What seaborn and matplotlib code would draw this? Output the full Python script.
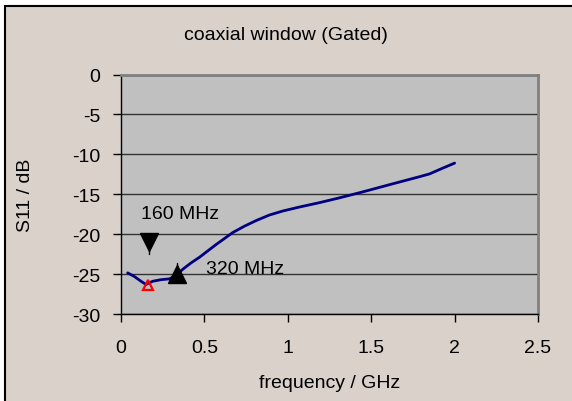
import matplotlib
matplotlib.use("Agg")
import matplotlib.pyplot as plt
import seaborn as sns
import pandas as pd
from matplotlib.patches import Rectangle

freq_ghz = [0.04, 0.08, 0.12, 0.15, 0.19, 0.24, 0.29, 0.33, 0.37, 0.42, 0.47,
            0.57, 0.67, 0.74, 0.81, 0.89, 0.97, 1.07, 1.18, 1.30, 1.45, 1.61, 1.79, 1.85, 1.91, 2.00]
s11_db = [-24.85, -25.3, -25.9, -26.3, -25.9, -25.7, -25.6, -25.2, -24.4, -23.6, -22.9,
          -21.3, -19.8, -19.0, -18.3, -17.6, -17.1, -16.6, -16.1, -15.5, -14.7, -13.8, -12.8, -12.45, -11.9, -11.1]

marker_160_x, marker_160_y = [0.17], [-21.0]
marker_320_x, marker_320_y = [0.335], [-25.0]
min_x, min_y = [0.16], [-26.4]

x_ticks = [0, 0.5, 1, 1.5, 2, 2.5]
x_tick_labels = ["0", "0.5", "1", "1.5", "2", "2.5"]
y_ticks = [0, -5, -10, -15, -20, -25, -30]
y_tick_labels = ["0", "-5", "-10", "-15", "-20", "-25", "-30"]

title = "coaxial window (Gated)"
xlabel = "frequency / GHz"
ylabel = "S11 / dB"

sns.set_theme(style="white")
plt.rcParams["font.family"] = ["Liberation Sans", "DejaVu Sans"]

fig = plt.figure(figsize=(5.72, 4.02), dpi=100, facecolor="white")
bg = Rectangle((5 / 572, -0.1), 2, 1 - 7 / 402 + 0.1, transform=fig.transFigure,
               facecolor="#d9d1ca", edgecolor="black", linewidth=1.5, zorder=-10)
fig.patches.append(bg)

ax = fig.add_axes([121 / 572, 1 - 315 / 402, (538 - 121) / 572, (315 - 75.5) / 402])
ax.set_facecolor("#c0c0c0")

df = pd.DataFrame({"f": freq_ghz, "s": s11_db})
sns.lineplot(data=df, x="f", y="s", ax=ax, color="#000080", linewidth=2.0,
             sort=False, estimator=None, zorder=3)

# markers with short vertical bars
ax.plot([marker_160_x[0], marker_160_x[0]], [marker_160_y[0], marker_160_y[0] - 1.5],
        color="black", lw=1, zorder=4)
ax.plot(marker_160_x, marker_160_y, marker="v", color="black", ms=13, ls="none", zorder=5)
ax.plot([marker_320_x[0], marker_320_x[0]], [marker_320_y[0], marker_320_y[0] + 1.4],
        color="black", lw=1, zorder=4)
ax.plot(marker_320_x, marker_320_y, marker="^", color="black", ms=13, ls="none", zorder=5)
ax.plot(min_x, min_y, marker="^", mfc="none", mec="red", mew=1.6, ms=6.5, ls="none", zorder=6)

ax.text(0.12, -17.4, "160 MHz", fontsize=14, ha="left", va="center", color="black", zorder=6)
ax.text(0.51, -24.3, "320 MHz", fontsize=14, ha="left", va="center", color="black", zorder=6)

ax.set_xlim(0, 2.5)
ax.set_ylim(-30, 0)
ax.set_xticks(x_ticks)
ax.set_xticklabels(x_tick_labels)
ax.set_yticks(y_ticks)
ax.set_yticklabels(y_tick_labels)
ax.tick_params(axis="both", labelsize=14, colors="black", direction="out", length=6, width=1,
               left=True, bottom=True)
ax.tick_params(axis="y", pad=9)
ax.tick_params(axis="x", pad=12)
ax.yaxis.grid(True, color="#333333", linewidth=1)
ax.xaxis.grid(False)
ax.set_axisbelow(True)

for side in ["left", "bottom"]:
    ax.spines[side].set_color("black")
    ax.spines[side].set_linewidth(1)
for side in ["top", "right"]:
    ax.spines[side].set_color("#808080")
    ax.spines[side].set_linewidth(2)
    ax.spines[side].set_visible(True)

ax.set_xlabel(xlabel, fontsize=14, color="black", labelpad=13)
ax.set_ylabel(ylabel, fontsize=14, color="black", labelpad=27)
fig.text(286 / 572, 1 - 35 / 402, title, fontsize=14, ha="center", va="center", color="black")

fig.savefig("out.png", dpi=100, facecolor=fig.get_facecolor())
